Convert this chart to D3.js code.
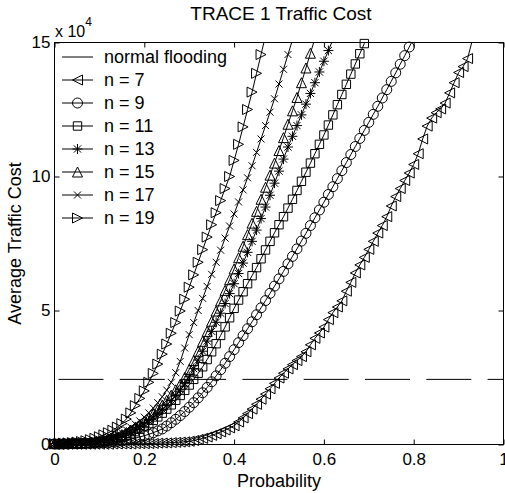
<!DOCTYPE html>
<html>
<head>
<meta charset="utf-8">
<script src="https://cdn.jsdelivr.net/npm/d3@7"></script>
<style>
  body { margin: 0; background: #fff; }
  svg { display: block; font-family: "Liberation Sans", Arial, sans-serif; }
</style>
</head>
<body>
<svg id="chart" width="505" height="493"></svg>
<script>
// traffic cost in thousands, one value per probability step of 0.01 starting at 0
const n7 = [0.1,0.1,0.1,0.1,0.1,0.1,0.1,0.1,0.1,0.1, 0.1,0.1,0.1,0.2,0.2,0.2,0.2,0.2,0.3,0.3,
  0.3,0.35,0.4,0.5,0.55,0.6,0.7,0.8,0.9,1, 1.2,1.5,1.9,2.3,2.8,3.4,4,4.7,5.4,6.2,
  7,8.4,9.9,11.5,13.2,15,16.9,18.8,20.8,22.8, 24.8,26.6,28.2,29.8,31.3,32.8,34.6,37.2,39.6,41.6,
  43.8,46.6,49.2,51.3,53.6,57.2,60.5,64,67,69.8, 72.8,75.8,78.9,81.7,85,89,92.5,95.5,98.5,101.3,
  104.5,108.5,114,118.8,121.8,123.8,125.2,127.4,131.2,135, 138.8,141,144,150.5];
const n9 = [0.2,0.2,0.2,0.2,0.3,0.3,0.3,0.4,0.4,0.5, 0.6,0.7,0.8,1,1.2,1.4,1.7,2,2.4,2.8,
  3.3,3.8,4.4,5.1,5.8,6.9,8.1,9.4,10.8,12.3, 13.9,15.6,17.4,19.3,21.3,23.4,25.6,27.9,30.3,32.8,
  35.4,38,40.6,43.2,45.8,48.4,51,53.7,56.4,59.1, 61.8,64.6,67.4,70.2,73,75.9,78.8,81.7,84.6,87.5,
  90.4,93.3,96.2,99.2,102.2,105.2,108.2,111.2,114.2,117.2, 120.2,123.2,126.2,129.3,132.4,135.5,138.7,141.9,145.1,148.3,
  151.5];
const n11 = [0.3,0.3,0.3,0.3,0.4,0.4,0.5,0.5,0.6,0.8, 1,1.2,1.5,1.8,2.2,2.7,3.3,4,4.8,5.7,
  6.7,7.8,9,10.3,11.7,13.2,14.8,16.5,18.3,20.2, 22.2,24.3,26.6,29,31.7,34.6,37.6,40.7,43.9,47.3,
  50.8,53.9,57,60,63,66,69.3,72.6,75.8,79, 82,85,88.2,91.5,94.8,98.2,101.6,105,108.5,112,
  115.5,119.2,123,126.8,130.6,134.4,138.2,142,145.8,149.6, 153.4];
const n13 = [0.3,0.3,0.3,0.4,0.4,0.5,0.5,0.6,0.7,0.9, 1.1,1.4,1.7,2.1,2.6,3.2,3.9,4.7,5.6,6.6,
  7.7,8.9,10.2,11.6,13.1,14.7,16.4,18.3,20.4,22.7, 25.3,28.3,31.5,34.8,38.6,42.2,45.6,49,52.6,56.3,
  60,63.8,67.7,71.7,75.8,80,84.3,88.6,93,97.5, 102,106.5,111,115,119,123,127,131,135,139,
  143,147,151];
const n15 = [0.3,0.3,0.4,0.4,0.5,0.5,0.6,0.7,0.8,1, 1.2,1.5,1.9,2.4,3,3.7,4.5,5.4,6.5,7.5,
  8.5,9.9,11.4,13,14.7,16.5,18.4,20.4,22.5,25, 28,31.3,34.8,38.5,42.2,46,49.8,53.6,57.5,61.5,
  65.5,69.7,74,78.3,82.6,87,91.5,96,100.5,105, 109.7,114.5,119.5,124.5,129.5,135,140.5,146,151.5];
const n17 = [0.3,0.3,0.4,0.4,0.5,0.6,0.7,0.9,1.1,1.4, 1.8,2.2,2.7,3.2,3.8,4.5,5.5,6.5,7.6,8.8,
  10.2,11.8,13.6,15.6,17.8,20.3,23.2,26.8,31,36, 41,45.5,50,54.5,59,63.5,68,72.5,77,81.5,
  86,90.5,95,99.5,104,109,114,119,124,129, 134.5,140,145.5,151];
const n19 = [0.3,0.4,0.5,0.6,0.7,0.9,1.1,1.4,1.8,2.3, 2.9,3.6,4.4,5.3,6.5,7.8,9.5,11.8,14.5,17.2,
  20,23.2,26.5,30,33.7,37.5,41.5,45.5,49.8,54.2, 58.7,63.3,68,72.7,77.4,82,86.5,91,95.5,100,
  106,112,118.5,125,131.5,138.5,145.5,152.5];
const normalFlooding = 24.3;

const seriesLabels = ['n = 7', 'n = 9', 'n = 11', 'n = 13', 'n = 15', 'n = 17', 'n = 19'];
const seriesValues = [n7, n9, n11, n13, n15, n17, n19];
const seriesMarkers = ['triLeft', 'circle', 'square', 'star', 'triUp', 'cross', 'triRight'];

const xTicks = [0, 0.2, 0.4, 0.6, 0.8, 1];
const xTickLabels = ['0', '0.2', '0.4', '0.6', '0.8', '1'];
const yTicks = [0, 50, 100, 150];
const yTickLabels = ['0', '5', '10', '15'];

const svg = d3.select('#chart');
const x = d3.scaleLinear().domain([0, 1]).range([54.5, 503.5]);
const y = d3.scaleLinear().domain([0, 150]).range([444.5, 42.5]);

svg.append('defs').append('clipPath').attr('id', 'plot-clip')
  .append('rect')
  .attr('x', x(0)).attr('y', y(150))
  .attr('width', x(1) - x(0)).attr('height', y(0) - y(150));

// marker outlines, drawn at the origin
function markerPath(type) {
  const s = 5, a = 3.6;
  switch (type) {
    case 'triLeft':  return `M${-s},0L${s},${-s}L${s},${s}Z`;
    case 'triRight': return `M${s},0L${-s},${-s}L${-s},${s}Z`;
    case 'triUp':    return `M0,${-s}L${s},${s}L${-s},${s}Z`;
    case 'circle':   return `M${s},0A${s},${s} 0 1,1 ${-s},0A${s},${s} 0 1,1 ${s},0Z`;
    case 'square':   return 'M-4.2,-4.2H4.2V4.2H-4.2Z';
    case 'star':     return `M${-s},0H${s}M0,${-s}V${s}M${-a},${-a}L${a},${a}M${-a},${a}L${a},${-a}`;
    case 'cross':    return 'M-3.5,-3.5L3.5,3.5M-3.5,3.5L3.5,-3.5';
  }
}

// normal flooding reference
svg.append('line')
  .attr('x1', x(0)).attr('x2', x(1))
  .attr('y1', y(normalFlooding)).attr('y2', y(normalFlooding))
  .attr('stroke', '#000').attr('stroke-width', 1)
  .attr('stroke-dasharray', '45,16.3').attr('stroke-dashoffset', 57.3);

const line = d3.line().x(d => x(d.p)).y(d => y(d.v));

seriesValues.forEach((vals, i) => {
  const pts = vals.map((v, k) => ({ p: k / 100, v }));
  svg.append('path')
    .attr('clip-path', 'url(#plot-clip)')
    .attr('d', line(pts))
    .attr('fill', 'none').attr('stroke', '#000').attr('stroke-width', 1);

  svg.append('g').selectAll('path')
    .data(pts.filter(d => d.v <= 150))
    .join('path')
    .attr('transform', d => `translate(${x(d.p)},${y(d.v)})`)
    .attr('d', markerPath(seriesMarkers[i]))
    .attr('fill', 'none').attr('stroke', '#000').attr('stroke-width', 1);
});

// axes box with inward ticks on all sides
svg.append('rect')
  .attr('x', x(0)).attr('y', y(150))
  .attr('width', x(1) - x(0)).attr('height', y(0) - y(150))
  .attr('fill', 'none').attr('stroke', '#000').attr('stroke-width', 1);

const gx = svg.append('g').attr('transform', `translate(0,${y(0)})`)
  .call(d3.axisBottom(x).tickValues(xTicks).tickSize(-5).tickPadding(8)
    .tickFormat((d, i) => xTickLabels[i]));
const gy = svg.append('g').attr('transform', `translate(${x(0)},0)`)
  .call(d3.axisLeft(y).tickValues(yTicks).tickSize(-5).tickPadding(4)
    .tickFormat((d, i) => yTickLabels[i]));
svg.append('g').attr('transform', `translate(0,${y(150)})`)
  .call(d3.axisTop(x).tickValues(xTicks).tickSize(-5).tickFormat(''));
svg.append('g').attr('transform', `translate(${x(1)},0)`)
  .call(d3.axisRight(y).tickValues(yTicks).tickSize(-5).tickFormat(''));

svg.selectAll('.domain').remove();
svg.selectAll('.tick line').attr('stroke', '#000');
[gx, gy].forEach(g => g.selectAll('text')
  .attr('font-family', '"Liberation Sans", Arial, sans-serif')
  .attr('font-size', 17).attr('fill', '#000'));

// exponent note above the y axis
svg.append('text').attr('x', 55).attr('y', 36.5)
  .attr('font-size', 16)
  .text('x 10')
  .append('tspan').attr('dy', -11).attr('font-size', 12).text('4');

svg.append('text')
  .attr('x', (x(0) + x(1)) / 2 + 2).attr('y', 20)
  .attr('text-anchor', 'middle').attr('font-size', 19)
  .text('TRACE 1 Traffic Cost');

svg.append('text')
  .attr('x', (x(0) + x(1)) / 2).attr('y', 487)
  .attr('text-anchor', 'middle').attr('font-size', 18)
  .text('Probability');

svg.append('text')
  .attr('transform', `translate(21,${(y(0) + y(150)) / 2}) rotate(-90)`)
  .attr('text-anchor', 'middle').attr('font-size', 18)
  .text('Average Traffic Cost');

// legend, no box
const legend = svg.append('g');
const rows = [{ label: 'normal flooding', marker: null }]
  .concat(seriesLabels.map((label, i) => ({ label, marker: seriesMarkers[i] })));

rows.forEach((r, i) => {
  const ly = 57 + i * 23;
  const row = legend.append('g').attr('transform', `translate(0,${ly})`);
  row.append('line').attr('x1', 62).attr('x2', 93).attr('y1', 0).attr('y2', 0)
    .attr('stroke', '#000').attr('stroke-width', 1);
  if (r.marker) {
    row.append('path').attr('transform', 'translate(77.5,0)')
      .attr('d', markerPath(r.marker))
      .attr('fill', 'none').attr('stroke', '#000').attr('stroke-width', 1);
  }
  row.append('text').attr('x', 104).attr('dy', '0.35em')
    .attr('font-size', 18).text(r.label);
});
</script>
</body>
</html>
